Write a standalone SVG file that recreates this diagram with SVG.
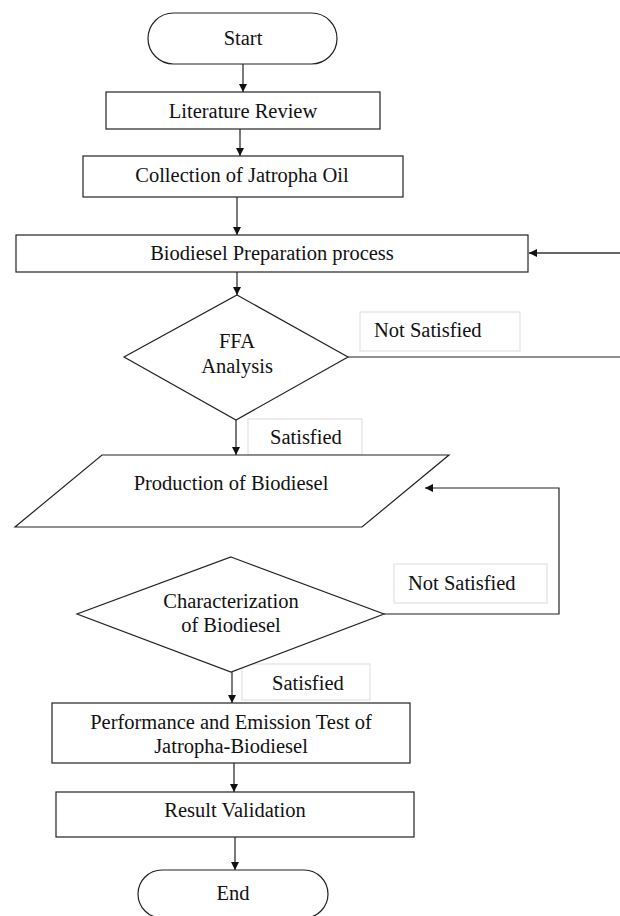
<svg xmlns="http://www.w3.org/2000/svg" width="620" height="916" viewBox="0 0 620 916">
<style>
  .shape { fill: #fff; stroke: #222; stroke-width: 1.2; }
  .lbl { fill: #fff; stroke: #e2e2e2; stroke-width: 1.2; }
  .t { font-family: "Liberation Serif", "Times New Roman", serif; font-size: 20.5px; fill: #111; }
  .c { text-anchor: middle; }
  .conn { fill: none; stroke: #222; stroke-width: 1.2; }
  .conn2 { fill: none; stroke: #666; stroke-width: 2; }
</style>
<defs>
  <marker id="arr" viewBox="0 0 10 10" refX="10" refY="5" markerWidth="8" markerHeight="8" markerUnits="userSpaceOnUse" orient="auto">
    <path d="M0,0 L10,5 L0,10 z" fill="#111"/>
  </marker>
</defs>
<rect width="620" height="916" fill="#fff"/>

<g id="labels">
  <g id="lbl-ns1"><rect class="lbl" x="360" y="312" width="160" height="39"/><text class="t" x="374" y="337">Not Satisfied</text></g>
  <g id="lbl-s1"><rect class="lbl" x="248" y="419" width="114" height="36"/><text class="t" x="270" y="444">Satisfied</text></g>
  <g id="lbl-ns2"><rect class="lbl" x="394" y="564" width="153" height="39"/><text class="t" x="408" y="590">Not Satisfied</text></g>
  <g id="lbl-s2"><rect class="lbl" x="242" y="664" width="128" height="36"/><text class="t" x="272" y="690">Satisfied</text></g>
</g>

<g id="connectors">
  <line class="conn" x1="243" y1="64" x2="243" y2="92" marker-end="url(#arr)"/>
  <line class="conn" x1="240" y1="129" x2="240" y2="156" marker-end="url(#arr)"/>
  <line class="conn" x1="237" y1="197" x2="237" y2="235" marker-end="url(#arr)"/>
  <line class="conn" x1="237" y1="272" x2="237" y2="295" marker-end="url(#arr)"/>
  <line class="conn" x1="236" y1="420" x2="236" y2="455" marker-end="url(#arr)"/>
  <polyline class="conn" points="348,357 620,357"/>
  <line class="conn2" x1="620" y1="253" x2="529" y2="253" marker-end="url(#arr)"/>
  <polyline class="conn" points="384,614 559,614 559,488 425,488" marker-end="url(#arr)"/>
  <line class="conn" x1="232" y1="672" x2="232" y2="703" marker-end="url(#arr)"/>
  <line class="conn" x1="234" y1="763" x2="234" y2="792" marker-end="url(#arr)"/>
  <line class="conn" x1="235" y1="837" x2="235" y2="870" marker-end="url(#arr)"/>
</g>

<g id="start"><rect class="shape" x="148" y="13" width="189" height="51" rx="25.5"/><text class="t c" x="243" y="45">Start</text></g>
<g id="literature"><rect class="shape" x="106" y="92" width="274" height="37"/><text class="t c" x="243" y="118">Literature Review</text></g>
<g id="collection"><rect class="shape" x="83" y="156" width="320" height="41"/><text class="t c" x="242" y="182">Collection of Jatropha Oil</text></g>
<g id="biodiesel-prep"><rect class="shape" x="16" y="235" width="512" height="37"/><text class="t c" x="272" y="260">Biodiesel Preparation process</text></g>
<g id="ffa"><polygon class="shape" points="237,295 348,357 236,420 124,357"/><text class="t c" x="237" y="348">FFA</text><text class="t c" x="237" y="373">Analysis</text></g>
<g id="production"><polygon class="shape" points="102,455 449,455 362,527 15,527"/><text class="t c" x="231" y="490">Production of Biodiesel</text></g>
<g id="characterization"><polygon class="shape" points="231,557 384,614 231,672 77,614"/><text class="t c" x="231" y="608">Characterization</text><text class="t c" x="231" y="632">of Biodiesel</text></g>
<g id="performance"><rect class="shape" x="52" y="703" width="358" height="60"/><text class="t c" x="231" y="729">Performance and Emission Test of</text><text class="t c" x="231" y="753">Jatropha-Biodiesel</text></g>
<g id="result"><rect class="shape" x="56" y="792" width="358" height="45"/><text class="t c" x="235" y="817">Result Validation</text></g>
<g id="end"><rect class="shape" x="138" y="870" width="190" height="48" rx="24"/><text class="t c" x="233" y="900">End</text></g>
</svg>
